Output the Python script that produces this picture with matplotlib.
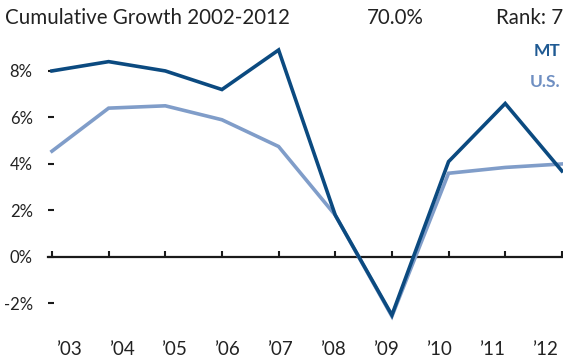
import matplotlib
matplotlib.use('Agg')
import matplotlib.pyplot as plt

plt.rcParams['font.family'] = ['Lato', 'DejaVu Sans']

# Annual growth rates (%), 2003-2012
years = ["\u201903", "\u201904", "\u201905", "\u201906", "\u201907",
         "\u201908", "\u201909", "\u201910", "\u201911", "\u201912"]
mt = [8.0, 8.4, 8.0, 7.2, 8.9, 1.8, -2.5, 4.1, 6.6, 3.7]
us = [4.55, 6.4, 6.5, 5.9, 4.75, 1.8, -2.55, 3.6, 3.85, 4.0]
yticks = [-2, 0, 2, 4, 6, 8]

MT_COLOR = '#0b4a80'
US_COLOR = '#809dc9'

fig = plt.figure(figsize=(5.63, 3.64), dpi=100)
ax = fig.add_axes([48 / 563, 1 - 330 / 364, 515 / 563, 290 / 364])

x = list(range(len(years)))
ax.plot(x, us, color=US_COLOR, lw=2.6, solid_joinstyle='miter', clip_on=False, zorder=3)
ax.plot(x, mt, color=MT_COLOR, lw=2.6, solid_joinstyle='miter', clip_on=False, zorder=4)

ax.set_xlim(-0.07, 9.02)
ax.set_ylim(-3.14, 9.33)

for s in ['top', 'right', 'left']:
    ax.spines[s].set_visible(False)
ax.spines['bottom'].set_position(('data', 0))
ax.spines['bottom'].set_color('#1a1a1a')
ax.spines['bottom'].set_linewidth(1.6)
ax.spines['bottom'].set_zorder(2)

ax.set_xticks(x)
ax.set_xticklabels([])
ax.tick_params(axis='x', direction='in', length=4, width=1.5, color='#1a1a1a')

ax.set_yticks(yticks)
ax.set_yticklabels([f'{v}%' for v in yticks], fontsize=12, color='#222222')
ax.tick_params(axis='y', direction='in', length=4, width=1.5, color='#1a1a1a', pad=11)

# category labels sit on their own axis along the bottom
ax2 = ax.twiny()
ax2.set_xlim((48 - 68.5) / 52.95, (563 - 68.5) / 52.95)
ax2.xaxis.set_ticks_position('bottom')
ax2.xaxis.set_label_position('bottom')
for s in ax2.spines.values():
    s.set_visible(False)
ax2.set_xticks(x)
ax2.set_xticklabels(years, fontsize=13.5, color='#222222')
ax2.tick_params(axis='x', length=0, pad=8)

fig.text(5 / 563, 1 - 18 / 364, 'Cumulative Growth 2002-2012', fontsize=14.8,
         color='#222222', va='center', ha='left')
fig.text(395 / 563, 1 - 18 / 364, '70.0%', fontsize=14.8, color='#222222',
         va='center', ha='center')
fig.text(1.0, 1 - 18 / 364, 'Rank: 7', fontsize=14.8, color='#222222',
         va='center', ha='right')
fig.text(560 / 563, 1 - 51 / 364, 'MT', fontsize=12.5, fontweight='bold',
         color='#1f5a93', va='center', ha='right')
fig.text(560 / 563, 1 - 82 / 364, 'U.S.', fontsize=12.5, fontweight='bold',
         color='#6f8fc2', va='center', ha='right')

fig.savefig('out.png', dpi=100)
